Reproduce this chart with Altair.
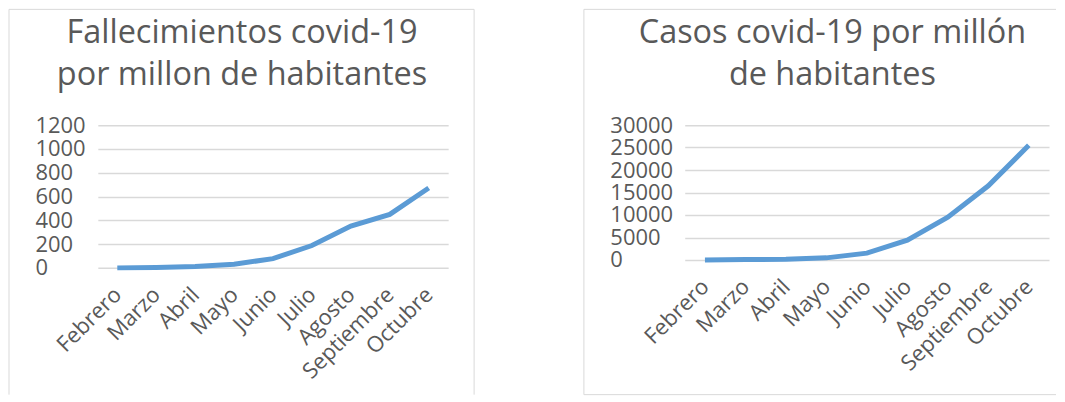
import altair as alt
import pandas as pd

months = ["Febrero", "Marzo", "Abril", "Mayo", "Junio", "Julio", "Agosto", "Septiembre", "Octubre"]
deaths = [0, 3, 12, 30, 78, 188, 352, 450, 672]
cases = [0, 75, 150, 450, 1500, 4400, 9500, 16500, 25500]
death_ticks = [0, 200, 400, 600, 800, 1000, 1200]
case_ticks = [0, 5000, 10000, 15000, 20000, 25000, 30000]
title_left = ["Fallecimientos covid-19", "por millon de habitantes"]
title_right = ["Casos covid-19 por millón", "de habitantes"]

df = pd.DataFrame({"mes": months, "fallecimientos": deaths, "casos": cases})
one = pd.DataFrame({"k": [0]})

FONT = "Open Sans"
GREY = "#595959"
GRID = "#D9D9D9"
BLUE = "#5B9BD5"


def panel(field, ticks, title, w, h, label_pad, edges, tx, ty):
    x = alt.X(
        "mes:N", sort=months, title=None,
        axis=alt.Axis(labelAngle=-45, labelAlign="right", labelBaseline="middle",
                      labelPadding=23, domain=False, ticks=False, grid=False,
                      labelFontSize=22, labelColor=GREY, labelFont=FONT),
    )
    y = alt.Y(
        f"{field}:Q", title=None,
        scale=alt.Scale(domain=[ticks[0], ticks[-1]], nice=False),
        axis=alt.Axis(values=ticks, format="d", labelAlign="left", labelBaseline="middle",
                      labelPadding=label_pad, ticks=False, domain=False, grid=True,
                      gridColor=GRID, gridWidth=1.5, labelFontSize=22,
                      labelColor=GREY, labelFont=FONT),
    )
    line = alt.Chart(df).mark_line(color=BLUE, strokeWidth=5).encode(x=x, y=y)
    layers = []
    for (x1, y1, x2, y2) in edges:
        enc = dict(x=alt.value(x1), y=alt.value(y1))
        if x2 != x1:
            enc["x2"] = alt.value(x2)
        if y2 != y1:
            enc["y2"] = alt.value(y2)
        layers.append(alt.Chart(one).mark_rule(color=GRID, strokeWidth=1).encode(**enc))
    layers.append(line)
    for i, t in enumerate(title):
        layers.append(
            alt.Chart(one).mark_text(text=t, font=FONT, fontSize=32.5, color=GREY,
                                     align="center", baseline="alphabetic").encode(
                x=alt.value(tx), y=alt.value(ty + 42 * i))
        )
    return alt.layer(*layers).properties(width=w, height=h)


left_edges = [(-89, -116, 377, -116), (-89, -116, -89, 270), (377, -116, 377, 270)]
right_edges = [(-101, -116, 372, -116), (-101, -116, -101, 270), (-101, 270, 372, 270)]

left = panel("fallecimientos", death_ticks, title_left, 351, 143, 63, left_edges, 144.5, -82)
right = panel("casos", case_ticks, title_right, 365, 135, 75, right_edges, 148, -82)

chart = alt.hconcat(left, right, spacing=237, bounds="flush").configure_view(strokeWidth=0).properties(padding=0)

chart.save("out.html", embed_options={"renderer": "svg", "actions": False})
